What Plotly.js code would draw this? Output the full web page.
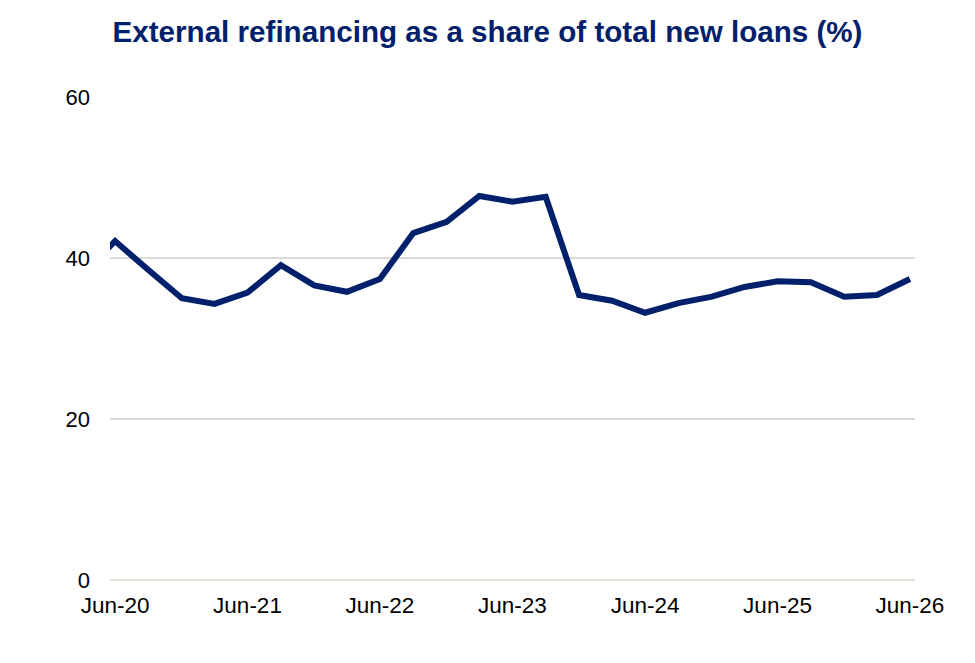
<!DOCTYPE html>
<html>
<head>
<meta charset="utf-8">
<script src="https://cdn.plot.ly/plotly-3.0.1.min.js"></script>
<style>
  html, body { margin: 0; padding: 0; background: #fff; }
  #chart { width: 975px; height: 663px; }
</style>
</head>
<body>
<div id="chart"></div>
<script>
// quarter-end dates; the Mar-20 point sits just left of the axis and is clipped
const quarters = [
  '2020-03-31', '2020-06-30', '2020-09-30', '2020-12-31',
  '2021-03-31', '2021-06-30', '2021-09-30', '2021-12-31',
  '2022-03-31', '2022-06-30', '2022-09-30', '2022-12-31',
  '2023-03-31', '2023-06-30', '2023-09-30', '2023-12-31',
  '2024-03-31', '2024-06-30', '2024-09-30', '2024-12-31',
  '2025-03-31', '2025-06-30', '2025-09-30', '2025-12-31',
  '2026-03-31', '2026-06-30'
]
const refinancingShare = [
  38.0, 42.1, 38.5, 35.0,
  34.3, 35.7, 39.1, 36.6,
  35.8, 37.4, 43.1, 44.5,
  47.7, 47.0, 47.6, 35.4,
  34.7, 33.2, 34.4, 35.2,
  36.4, 37.1, 37.0, 35.2,
  35.4, 37.4
]
const tickDates = ['2020-06-30', '2021-06-30', '2022-06-30', '2023-06-30', '2024-06-30', '2025-06-30', '2026-06-30']
const tickLabels = ['Jun-20', 'Jun-21', 'Jun-22', 'Jun-23', 'Jun-24', 'Jun-25', 'Jun-26']
const yTicks = [0, 20, 40, 60]

const navy = '#00206b'

var data = [{
  x: quarters,
  y: refinancingShare,
  type: 'scatter',
  mode: 'lines',
  line: { color: navy, width: 6, shape: 'linear' },
  hoverinfo: 'x+y'
}]

var layout = {
  width: 975,
  height: 663,
  margin: { l: 110, r: 60, t: 97, b: 83 },
  paper_bgcolor: '#ffffff',
  plot_bgcolor: '#ffffff',
  font: { family: 'Liberation Sans, Arial, sans-serif', color: '#000000' },
  title: {
    text: '<b>External refinancing as a share of total new loans (%)</b>',
    font: { size: 29.6, color: navy, family: 'Liberation Sans, Arial, sans-serif' },
    x: 0.5,
    xanchor: 'center',
    y: 0.953,
    yanchor: 'middle'
  },
  showlegend: false,
  xaxis: {
    type: 'date',
    range: ['2020-06-16', '2026-07-14'],
    tickvals: tickDates,
    ticktext: tickLabels,
    showgrid: false,
    zeroline: false,
    showline: false,
    ticks: '',
    ticklabelstandoff: 9,
    tickfont: { size: 22.5, color: '#000000' }
  },
  yaxis: {
    range: [0, 60],
    tickvals: yTicks,
    showgrid: true,
    gridcolor: '#d9d9d9',
    gridwidth: 2,
    zeroline: true,
    zerolinecolor: '#e6e4da',
    zerolinewidth: 2.5,
    showline: false,
    ticks: '',
    ticklabelstandoff: 19,
    tickfont: { size: 22, color: '#000000' }
  }
}

Plotly.newPlot('chart', data, layout, { displayModeBar: false, staticPlot: true })
</script>
</body>
</html>
